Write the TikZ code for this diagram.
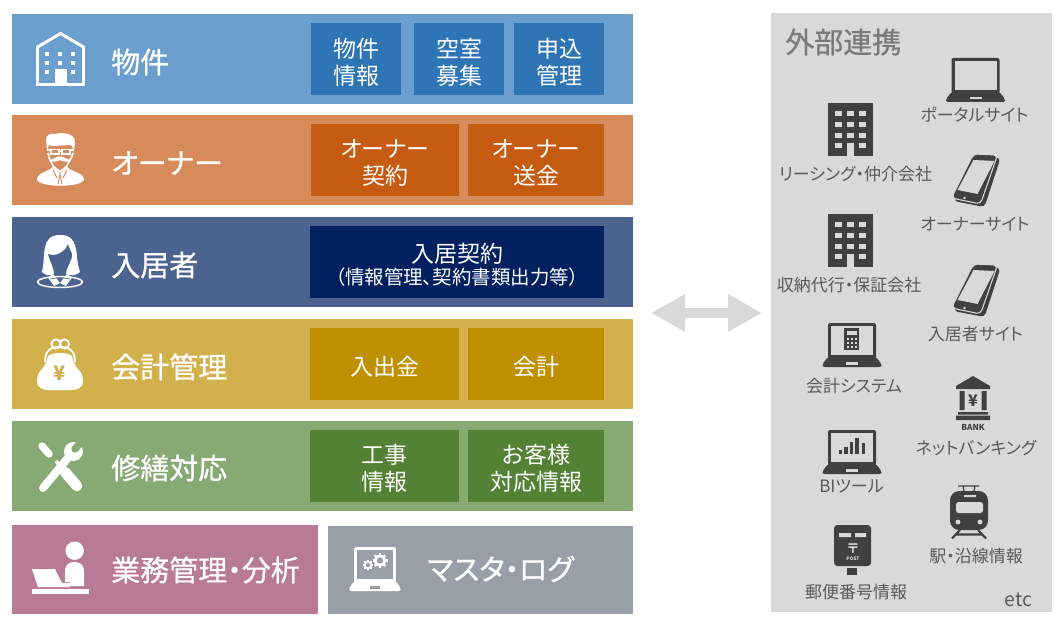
\documentclass[tikz,border=0pt]{standalone}
\usepackage{fontspec}
\setmainfont[RawFeature=+palt]{Noto Sans CJK JP}
\newfontfamily\headfont[FakeBold=0.7,RawFeature=+palt]{Noto Sans CJK JP}
\usetikzlibrary{arrows.meta}
\definecolor{propBg}{HTML}{6B9FCE}
\definecolor{propBox}{HTML}{2E75B6}
\definecolor{ownerBg}{HTML}{D78B5A}
\definecolor{ownerBox}{HTML}{C55A11}
\definecolor{tenantBg}{HTML}{4D638F}
\definecolor{tenantBox}{HTML}{002060}
\definecolor{accountBg}{HTML}{D2B04C}
\definecolor{accountBox}{HTML}{BF9000}
\definecolor{repairBg}{HTML}{87A974}
\definecolor{repairBox}{HTML}{548235}
\definecolor{officeBg}{HTML}{B87A95}
\definecolor{masterBg}{HTML}{989FA8}
\definecolor{panelBg}{HTML}{D9D9D9}
\definecolor{iconDark}{HTML}{404040}
\definecolor{siteText}{HTML}{595959}
\newcommand{\boxtop}{\rule{0pt}{18.4pt}}
\tikzset{
  band/.style 2 args={rectangle, inner sep=0pt, outer sep=0pt, minimum width=#1*0.75pt, minimum height=#2*0.75pt},
  subBox/.style 2 args={band={#1}{72}, fill=#2, text=white, align=center, font={\fontsize{17.25}{20.25}\selectfont}},
  rowLabel/.style={anchor=west, inner sep=0pt, text=white, font={\headfont\fontsize{21.75}{24}\selectfont}},
  siteLabel/.style={inner sep=0pt, yshift=-0.75pt, text=siteText, font={\fontsize{12.75}{14}\selectfont}},
  linkArrow/.style={draw=panelBg, line width=7.9pt, {Triangle[length=25.5pt,width=26.5pt]}-{Triangle[length=25.5pt,width=26.5pt]}},
  pics/laptopIcon/.style 2 args={code={
    \fill[#1, rounded corners=1.5pt] (-24,-22) rectangle (24,14);
    \fill[#2] (-21,-19) rectangle (21,10);
    \fill[#1, rounded corners=1.5pt] (-24,12) -- (24,12) -- (29.5,19) -- (29.5,22) -- (-29.5,22) -- (-29.5,19) -- cycle;
    \fill[#2] (-6,17) rectangle (6,19.5);
  }},
  pics/towerIcon/.style={code={
    \fill[iconDark] (-22.5,-26.5) rectangle (22.5,26.5);
    \foreach \col in {-12,0,12}
      \foreach \row in {-16,-5,6,16}
        \fill[panelBg] (\col-3.2,\row-2.5) rectangle (\col+3.2,\row+2.5);
    \fill[panelBg] (-3.3,16) rectangle (3.3,26.5);
  }},
  pics/phoneIcon/.style={code={
    \fill[iconDark, rounded corners=3pt] (3,-24) -- (25,-22) -- (9,27) -- (-22,21) -- cycle;
    \draw[panelBg, line width=.8pt, fill=iconDark, rounded corners=3pt] (-2,-26) -- (22,-25) -- (5,24) -- (-24,18) -- cycle;
    \fill[panelBg] (-2,-20) -- (19,-19) -- (2,14) -- (-18,10) -- cycle;
    \fill[panelBg] (-11,18) circle (1.4);
  }},
  pics/gearIcon/.style 2 args={code={
    \foreach \ang in {0,45,...,315}
      \draw[white, line width=1.8pt] (0,0) -- (\ang:#1);
    \fill[white] (0,0) circle (#1*0.8);
    \fill[#2] (0,0) circle (#1*0.42);
  }}
}

\begin{document}
\begin{tikzpicture}[x=0.75pt, y=-0.75pt]
      \useasboundingbox (0,0) rectangle (1063,631);

      \node[band={621}{90}, fill=propBg] (propBand) at (322.5,59) {};
      \node[band={621}{90}, fill=ownerBg] (ownerBand) at (322.5,160) {};
      \node[band={621}{90}, fill=tenantBg] (tenantBand) at (322.5,262) {};
      \node[band={621}{90}, fill=accountBg] (accountBand) at (322.5,364) {};
      \node[band={621}{90}, fill=repairBg] (repairBand) at (322.5,466) {};
      \node[band={306}{89}, fill=officeBg] (officeBand) at (165,569.5) {};
      \node[band={305}{88}, fill=masterBg] (masterBand) at (480.5,570) {};

      \node[rowLabel] (propLabel) at (111,62) {物件};
      \node[rowLabel] (ownerLabel) at (111,163) {オーナー};
      \node[rowLabel] (tenantLabel) at (111,265) {入居者};
      \node[rowLabel] (accountLabel) at (111,367) {会計管理};
      \node[rowLabel] (repairLabel) at (111,468) {修繕対応};
      \node[rowLabel] (officeLabel) at (111,570) {業務管理・分析};
      \node[rowLabel] (masterLabel) at (427,569) {マスタ・ログ};

      \node[subBox={90}{propBox}] (propInfo) at (356,59.5) {\boxtop 物件\\情報};
      \node[subBox={90}{propBox}] (propVacant) at (459,59.5) {\boxtop 空室\\募集};
      \node[subBox={90}{propBox}] (propApply) at (559,59.5) {\boxtop 申込\\管理};
      \node[subBox={148}{ownerBox}] (ownerContract) at (385,160) {\boxtop オーナー\\契約};
      \node[subBox={136}{ownerBox}] (ownerRemit) at (536,160) {\boxtop オーナー\\送金};
      \node[subBox={294}{tenantBox}] (tenantContract) at (457,262) {\boxtop 入居契約\\[-4pt]{\fontsize{14.6}{16}\selectfont （情報管理、契約書類出力等）}};
      \node[subBox={149}{accountBox}] (accountCash) at (384.5,364) {\boxtop 入出金};
      \node[subBox={136}{accountBox}] (accountBook) at (536,364) {\boxtop 会計};
      \node[subBox={149}{repairBox}] (repairWork) at (384.5,466) {\boxtop 工事\\情報};
      \node[subBox={136}{repairBox}] (repairCustomer) at (536,466) {\boxtop お客様\\対応情報};

      % building
      \draw[white, line width=2.2pt, miter limit=4] (37.5,84.5) -- (37.5,47) -- (60.5,33.5) -- (83.5,47) -- (83.5,84.5) -- cycle;
      \foreach \col in {47,60,73}
        \foreach \row in {54,63,72}
          \fill[white] (\col-2,\row-2) rectangle (\col+2,\row+2);
      \fill[white] (54.5,69.5) rectangle (66.5,84);

      % owner
      \fill[white] (37,179) .. controls (38,172) and (48,172) .. (53,167) -- (60,174) -- (67,167) .. controls (72,172) and (82,172) .. (84,179) .. controls (84,188) and (37,188) .. (37,179) -- cycle;
      \draw[white, line width=1.3pt] (48,153) .. controls (49,160) and (52,162) .. (53,166) -- (60,172) -- (67,166) .. controls (68,162) and (71,160) .. (73,153);
      \fill[white] (47,150) -- (46,139) .. controls (47,134) and (52,133) .. (55,134) .. controls (62,132) and (75,133) .. (75,142) -- (74,150) -- (71,145) -- (52,146) -- (49,145) -- cycle;
      \draw[white, line width=.9pt] (51,149.5) rectangle (59,154) (62,149.5) rectangle (70,154) (47,150) -- (51,150) (59,151) -- (62,151) (70,150) -- (74,150);
      \fill[white] (60,156.5) .. controls (56,156) and (53,160) .. (49,160) .. controls (53,163) and (57,161.5) .. (60,160) .. controls (63,161.5) and (67,163) .. (71,160) .. controls (67,160) and (64,156) .. (60,156.5) -- cycle;
      \draw[ownerBg, line width=.7pt] (60,174) -- (58,184) (60,174) -- (62,184) (53,170) -- (57,178) (67,170) -- (63,178);

      % tenant
      \fill[white] (42,272) .. controls (46,256) and (40,235) .. (60,235) .. controls (81,235) and (74,256) .. (80,272) .. controls (76,276) and (70,276) .. (66,274) -- (54,274) .. controls (50,276) and (46,276) .. (42,272) -- cycle;
      \fill[tenantBg] (48,254) .. controls (56,257) and (65,252) .. (68,244) .. controls (69,250) and (73,252) .. (72,257) .. controls (70,264) and (66,268) .. (66,274) -- (60,280) -- (54,274) .. controls (54,268) and (50,262) .. (48,254) -- cycle;
      \draw[white, line width=1.1pt] (60,282) ellipse (22.5 and 5.5);
      \fill[white] (48,277.5) -- (53,274) -- (60,283) -- (54,286) -- cycle (72,277.5) -- (67,274) -- (60,283) -- (66,286) -- cycle;
      \draw[tenantBg, line width=.5pt] (50,279) -- (56,278) (70,279) -- (64,278);

      % purse
      \draw[white, line width=1.4pt] (56,344) circle (4.6) (64.5,344) circle (4.6);
      \draw[white, line width=1.4pt] (45,362) .. controls (45,351) and (50,347) .. (60,347) .. controls (70,347) and (75,351) .. (75,362);
      \fill[white] (48,356) .. controls (52,352) and (68,352) .. (72,356) .. controls (73,362) and (75,365) .. (78,369) .. controls (81,372) and (83,376) .. (83,381) .. controls (83,389) and (76,390) .. (70,390) -- (50,390) .. controls (44,390) and (37,389) .. (37,381) .. controls (37,376) and (39,372) .. (42,369) .. controls (45,365) and (47,362) .. (48,356) -- cycle;
      \node[inner sep=0pt, text=accountBg, font={\bfseries\fontsize{15}{17}\selectfont}] (purseYen) at (60,373) {¥};

      % tools
      \draw[white, line width=6pt, line cap=round] (43,488) -- (72,453);
      \fill[white] (73.5,451.5) circle (9.5);
      \draw[repairBg, line width=5.5pt, line cap=round] (75,449) -- (85,438);
      \draw[white, line width=8pt, line cap=round] (65,472) -- (77,486);
      \draw[white, line width=2.5pt] (56,461) -- (66,473);
      \draw[white, line width=5.5pt, line cap=round] (42,446) -- (49,454);

      % desk
      \fill[white] (74.7,550.7) circle (9.2);
      \fill[white] (65,586) -- (65,571) .. controls (65,565) and (69,562) .. (74.5,562) .. controls (80,562) and (84,565) .. (84,571) -- (84,586) -- (70,586) -- (70,582) -- (65,582) -- cycle;
      \fill[white] (32,569) -- (55,569) -- (62,583) -- (70,583) -- (70,587) -- (38,587) -- cycle;
      \fill[white] (32,588.5) rectangle (89,594);

      % master laptop
      \pic[xscale=0.87] at (375,569) {laptopIcon={white}{masterBg}};
      \pic at (368,565) {gearIcon={5.2}{masterBg}};
      \pic at (380,560.5) {gearIcon={7.5}{masterBg}};

      \coordinate (linkLeft) at (651,313);
      \coordinate (linkRight) at (762,313);
      \draw[linkArrow] (linkLeft) -- (linkRight);

      \node[band={281}{599}, fill=panelBg] (sidePanel) at (911.5,312.5) {};
      \node[inner sep=0pt, text=black!52, anchor=west, font={\headfont\fontsize{21.75}{24}\selectfont}] (sideTitle) at (785,42) {外部連携};

      \pic at (975.5,80) {laptopIcon={iconDark}{panelBg}};
      \node[siteLabel] (portalLabel) at (974.5,114) {ポータルサイト};

      \pic at (850.5,129.5) {towerIcon};
      \node[siteLabel] (leasingLabel) at (855.5,173) {リーシング・仲介会社};

      \pic at (975.5,180) {phoneIcon};
      \node[siteLabel] (ownerSiteLabel) at (975,223) {オーナーサイト};

      \pic at (850.5,240) {towerIcon};
      \node[siteLabel] (guaranteeLabel) at (849,284) {収納代行・保証会社};

      \pic at (975.5,290) {phoneIcon};
      \node[siteLabel] (tenantSiteLabel) at (975.5,333) {入居者サイト};

      \pic at (852,345) {laptopIcon={iconDark}{panelBg}};
      \fill[iconDark] (844,328) rectangle (859,350);
      \foreach \col in {846.5,850.5,854.5}
        \foreach \row in {337.5,341.5,345.5}
          \fill[panelBg] (\col,\row) rectangle (\col+2.5,\row+2.5);
      \fill[panelBg] (846.5,331) rectangle (857,334.5);
      \node[siteLabel] (accountSysLabel) at (854,385.5) {会計システム};

      \fill[iconDark] (973,376) -- (990,386) -- (990,389) -- (956,389) -- (956,386) -- cycle;
      \fill[iconDark] (959.5,391) rectangle (964.5,410) (981.5,391) rectangle (986.5,410);
      \fill[iconDark] (958,412) rectangle (988,414.5) (956,415.5) rectangle (990,420);
      \node[inner sep=0pt, text=iconDark, font={\bfseries\fontsize{12}{13}\selectfont}] (bankYen) at (973,401) {¥};
      \node[inner sep=0pt, text=iconDark, font={\bfseries\fontsize{6.2}{7}\selectfont}] (bankWord) at (973,427) {BANK};
      \node[siteLabel] (bankingLabel) at (976,447) {ネットバンキング};

      \pic at (852,452) {laptopIcon={iconDark}{panelBg}};
      \foreach \col/\top in {838.5/450,844/447,849.5/442,855/438,861.5/443}
        \fill[iconDark] (\col,\top) rectangle (\col+3.5,454);
      \node[siteLabel] (biLabel) at (851.5,485.5) {BIツール};

      \draw[iconDark, line width=1pt] (958,486) -- (979,486) (963,486) -- (964,491) (975,486) -- (974,491);
      \fill[iconDark, rounded corners=7pt] (950,491) rectangle (988,530);
      \fill[panelBg, rounded corners=2pt] (956,502) rectangle (983,513);
      \fill[panelBg] (964,495) rectangle (976,497) (958,522) circle (2.4) (980,522) circle (2.4);
      \draw[iconDark, line width=1.6pt] (960,530) -- (952,538.5) (978,530) -- (986,538.5) (955,534.5) -- (983,534.5);
      \node[siteLabel] (stationLabel) at (976,555) {駅・沿線情報};

      \fill[iconDark, rounded corners=2.5pt] (834,525) rectangle (871,566);
      \fill[iconDark] (847,568) rectangle (857,575);
      \fill[panelBg] (839,533) rectangle (851,537) (855,533) rectangle (866,537);
      \node[inner sep=0pt, text=panelBg, font={\bfseries\fontsize{10}{11}\selectfont}] (postMark) at (853,549) {〒};
      \node[inner sep=0pt, text=panelBg, font={\bfseries\fontsize{3.6}{4}\selectfont}] (postWord) at (853,559) {POST};
      \node[siteLabel] (postalLabel) at (856,591) {郵便番号情報};

      \node[inner sep=0pt, text=siteText, font={\fontsize{14.5}{16}\selectfont}] (etcLabel) at (1018.5,600) {etc};
\end{tikzpicture}
\end{document}
